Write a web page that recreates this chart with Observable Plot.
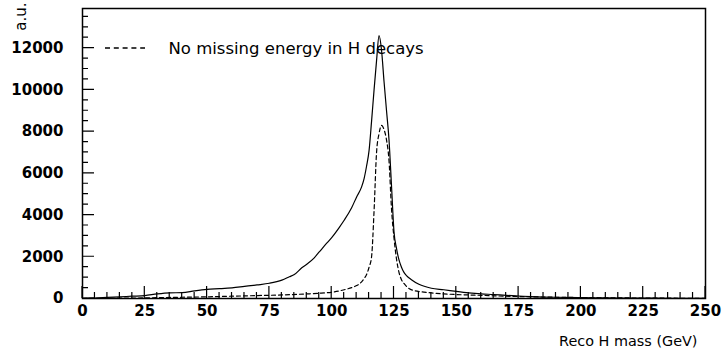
<!DOCTYPE html>
<html>
<head>
<meta charset="utf-8">
<script src="https://cdn.jsdelivr.net/npm/d3@7"></script>
<script src="https://cdn.jsdelivr.net/npm/@observablehq/plot@0.6"></script>
<style>
  html, body { margin: 0; padding: 0; background: #fff; }
  #chart svg { display: block; }
</style>
</head>
<body>
<div id="chart"></div>
<script>
// Solid curve: reconstructed H mass (all events)
const solidMass = [0, 5, 10, 15, 20, 25, 30, 35, 40, 45, 50, 55, 60, 65, 70, 75, 80, 83, 85, 88, 90, 93, 95, 98, 100, 103, 105, 108, 110, 112, 113, 114, 115, 116, 117, 118, 119, 120, 121, 122, 123, 124, 125, 126, 127, 128, 129, 130, 132, 135, 140, 145, 150, 155, 160, 165, 170, 175, 180, 185, 190, 200, 210, 220, 230, 240, 250];
const solidCounts = [0, 20, 50, 80, 110, 140, 220, 270, 280, 370, 440, 470, 510, 580, 650, 730, 880, 1040, 1150, 1470, 1640, 1950, 2230, 2650, 2920, 3400, 3750, 4350, 4870, 5350, 5750, 6350, 7100, 8500, 10000, 11400, 12600, 11900, 10400, 9000, 7600, 5400, 3200, 2400, 1850, 1500, 1250, 1100, 900, 680, 490, 420, 340, 270, 220, 190, 150, 120, 90, 70, 60, 40, 30, 20, 15, 10, 5];

// Dashed curve: no missing energy in H decays
const dashMass = [0, 10, 20, 30, 40, 50, 60, 70, 80, 90, 95, 100, 103, 105, 108, 110, 112, 113, 114, 115, 116, 117, 118, 119, 120, 121, 122, 123, 124, 125, 126, 127, 128, 129, 130, 131, 133, 137, 140, 145, 150, 160, 170, 180, 190, 200, 210, 220, 230, 240, 250];
const dashCounts = [0, 10, 20, 40, 60, 80, 110, 140, 170, 220, 250, 300, 360, 420, 520, 620, 800, 950, 1150, 1500, 2000, 4200, 7000, 7900, 8300, 8100, 7600, 6600, 4300, 2900, 1900, 1250, 900, 720, 580, 480, 380, 310, 270, 220, 190, 150, 110, 80, 60, 45, 35, 25, 20, 12, 8];

// Axis ticks
const xMajor = [0, 25, 50, 75, 100, 125, 150, 175, 200, 225, 250];
const xMinor = [5, 10, 15, 20, 30, 35, 40, 45, 55, 60, 65, 70, 80, 85, 90, 95, 105, 110, 115, 120, 130, 135, 140, 145, 155, 160, 165, 170, 180, 185, 190, 195, 205, 210, 215, 220, 230, 235, 240, 245];
const yMajor = [0, 2000, 4000, 6000, 8000, 10000, 12000];
const yMinor = [500, 1000, 1500, 2500, 3000, 3500, 4500, 5000, 5500, 6500, 7000, 7500, 8500, 9000, 9500, 10500, 11000, 11500, 12500, 13000, 13500];

const legendLabel = "No missing energy in H decays";
const xTitle = "Reco H mass (GeV)";
const yTitle = "a.u.";

const solidRows = solidMass.map((m, i) => ({mass: m, count: solidCounts[i]}));
const dashedRows = dashMass.map((m, i) => ({mass: m, count: dashCounts[i]}));

const SVGNS = "http://www.w3.org/2000/svg";

// build the inward tick path from scale functions sx, sy
function tickPath(sx, sy, x0, y0) {
  let d = "";
  for (const v of xMajor) { const p = +sx(v); d += `M${p},${y0}V${y0 - 12}`; }
  for (const v of xMinor) { const p = +sx(v); d += `M${p},${y0}V${y0 - 6}`; }
  for (const v of yMajor) { const p = +sy(v); d += `M${x0},${p}H${x0 + 12}`; }
  for (const v of yMinor) { const p = +sy(v); d += `M${x0},${p}H${x0 + 6}`; }
  const path = document.createElementNS(SVGNS, "path");
  path.setAttribute("d", d);
  path.setAttribute("fill", "none");
  path.setAttribute("stroke", "#000");
  path.setAttribute("stroke-width", "1.2");
  return path;
}

// legend sample line, placed relative to the frame
function legendLine(index, scales, values, dims) {
  const path = document.createElementNS(SVGNS, "path");
  const y = dims.marginTop + 40;
  path.setAttribute("d", `M${dims.marginLeft + 23},${y}H${dims.marginLeft + 63}`);
  path.setAttribute("fill", "none");
  path.setAttribute("stroke", "#000");
  path.setAttribute("stroke-width", "1.3");
  path.setAttribute("stroke-dasharray", "5,3.8");
  return path;
}

const chart = Plot.plot({
  width: 724,
  height: 357,
  marginLeft: 82,
  marginRight: 19,
  marginTop: 8,
  marginBottom: 59,
  style: {fontFamily: "DejaVu Sans", color: "black", background: "white"},
  x: {domain: [0, 250]},
  y: {domain: [0, 13900]},
  marks: [
    Plot.axisX({ticks: xMajor, tickSize: 0, tickPadding: 7, fontSize: 15, fontWeight: "bold", label: null, tickFormat: d => String(d)}),
    Plot.axisY({ticks: yMajor, tickSize: 0, tickPadding: 19, fontSize: 15, fontWeight: "bold", label: null, tickFormat: d => String(d)}),
    Plot.line(solidRows, {x: "mass", y: "count", stroke: "black", strokeWidth: 1.2, curve: "monotone-x"}),
    Plot.line(dashedRows, {x: "mass", y: "count", stroke: "black", strokeWidth: 1.2, strokeDasharray: "4,3", curve: "monotone-x"}),
    Plot.frame({stroke: "black", strokeWidth: 1.5}),
    Plot.text([legendLabel], {frameAnchor: "top-left", dx: 86, dy: 40, textAnchor: "start", lineAnchor: "middle", fontSize: 16.5, fill: "black"}),
    Plot.text([xTitle], {frameAnchor: "bottom-right", dx: -8, dy: 43, textAnchor: "end", lineAnchor: "middle", fontSize: 14.4, fill: "black"}),
    Plot.text([yTitle], {frameAnchor: "top-left", dx: -61, dy: -6, rotate: -90, textAnchor: "end", lineAnchor: "middle", fontSize: 15, fill: "black"}),
    legendLine
  ]
});

// inward ticks appended after rendering, positioned with the chart's own x and y scales
const xs = chart.scale("x"), ys = chart.scale("y");
const frameLeft = xs.range[0], frameBottom = ys.range[0];
chart.appendChild(tickPath(v => xs.apply(v), v => ys.apply(v), frameLeft, frameBottom));

document.getElementById("chart").appendChild(chart);
</script>
</body>
</html>
